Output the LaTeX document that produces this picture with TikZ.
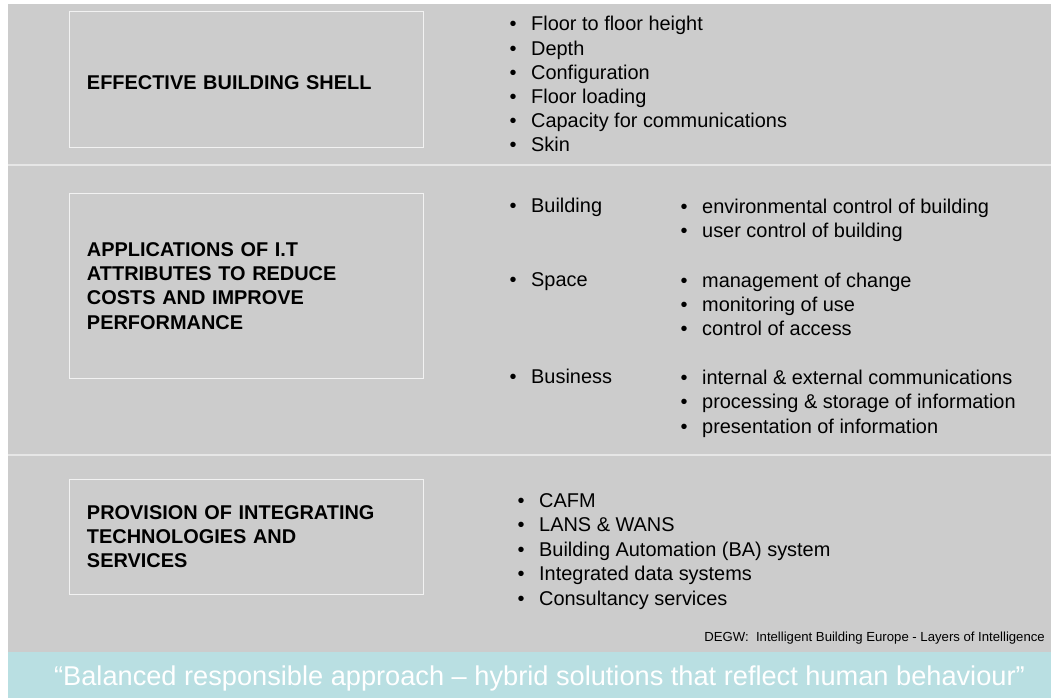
\documentclass[tikz,border=0pt]{standalone}
\usepackage{fontspec}
\setmainfont{Liberation Sans}
\definecolor{panelgray}{HTML}{CCCCCC}
\definecolor{bandteal}{HTML}{B9DFE2}
\definecolor{ruleline}{HTML}{E6E6E6}
\definecolor{boxline}{HTML}{F2F2F2}

\tikzset{
	layerbox/.style={draw=boxline, line width=1bp, minimum width=353bp, text width=319bp,
		inner xsep=17bp, align=left, font=\bfseries\fontsize{20}{24.3}\selectfont},
	item/.style={anchor=base west, inner sep=0pt, font=\fontsize{20}{24}\selectfont},
	dot/.style={anchor=base, inner sep=0pt, font=\fontsize{20}{24}\selectfont},
}

\begin{document}
\begin{tikzpicture}[x=1bp,y=-1bp]
	\useasboundingbox (0,0) rectangle (1051,698);
	\fill[white] (0,0) rectangle (1051,698);
	\fill[panelgray] (8,4) rectangle (1051,652);
	\fill[bandteal] (8,652) rectangle (1051,698);
	\draw[ruleline, line width=2bp] (8,165)--(1051,165);
	\draw[ruleline, line width=2bp] (8,455)--(1051,455);

	% layers
	\node[layerbox, minimum height=135bp, text height=20bp, text depth=0pt] (shell) at (246.5,79.5) {EFFECTIVE BUILDING SHELL};
	\node[layerbox, minimum height=184bp] (apps) at (246.5,286) {APPLICATIONS OF I.T\\ATTRIBUTES TO REDUCE\\COSTS AND IMPROVE\\PERFORMANCE};
	\node[layerbox, minimum height=115bp] (tech) at (246.5,536.5) {PROVISION OF INTEGRATING\\TECHNOLOGIES AND\\SERVICES};

	% shell list
	\foreach \t [count=\i] in {Floor to floor height, Depth, Configuration, Floor loading,
		Capacity for communications, Skin}{
		\node[dot] (shelldot\i) at (513,{31+(\i-1)*24.2}) {\textbullet};
		\node[item] (shellitem\i) at (531,{31+(\i-1)*24.2}) {\t};
	}

	% applications
	\foreach \t/\y [count=\i] in {Building/212, Space/286, Business/383}{
		\node[dot] (appdot\i) at (513,\y) {\textbullet};
		\node[item] (appitem\i) at (531,\y) {\t};
	}
	\foreach \t/\y [count=\i] in {environmental control of building/213, user control of building/237,
		management of change/287, monitoring of use/311, control of access/335,
		internal \& external communications/384, processing \& storage of information/408,
		presentation of information/433}{
		\node[dot] (subdot\i) at (684,\y) {\textbullet};
		\node[item] (subitem\i) at (702,\y) {\t};
	}

	% technologies
	\foreach \t [count=\i] in {CAFM, LANS \& WANS, Building Automation (BA) system,
		Integrated data systems, Consultancy services}{
		\node[dot] (techdot\i) at (521,{507+(\i-1)*24.5}) {\textbullet};
		\node[item] (techitem\i) at (539,{507+(\i-1)*24.5}) {\t};
	}

	\node[anchor=base east, inner sep=0pt, font=\fontsize{13.2}{15}\selectfont] (source) at (1045,641)
		{DEGW:\ \ Intelligent Building Europe - Layers of Intelligence};
	\node[anchor=base, inner sep=0pt, text=white, font=\fontsize{27.3}{31}\selectfont] (quote) at (539.5,685)
		{“Balanced responsible approach – hybrid solutions that reflect human behaviour”};
\end{tikzpicture}
\end{document}
